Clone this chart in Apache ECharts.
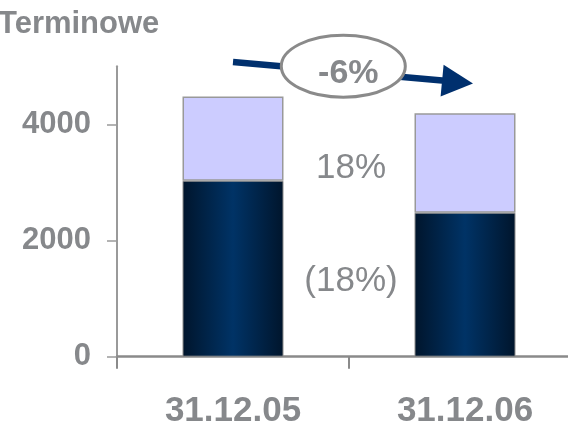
<!DOCTYPE html>
<html>
<head>
<meta charset="utf-8">
<script src="https://cdn.jsdelivr.net/npm/echarts@6/dist/echarts.min.js"></script>
<style>html,body{margin:0;padding:0;background:#fff;}#c{width:568px;height:428px;}</style>
</head>
<body>
<div id="c"></div>
<script>
var title = 'Terminowe';
var categories = ['31.12.05', '31.12.06'];
var darkValues = [3030, 2480];
var lightValues = [1450, 1710];
var yTicks = [0, 2000, 4000];

var gray = '#86888b';
var font = 'Liberation Sans, Arial, sans-serif';

function pct(a, b) { return Math.round((b / a - 1) * 100); }
var totalChange = pct(darkValues[0] + lightValues[0], darkValues[1] + lightValues[1]);
var lightChange = pct(lightValues[0], lightValues[1]);
var darkChange = pct(darkValues[0], darkValues[1]);
var darkLabel = darkChange < 0 ? '(' + Math.abs(darkChange) + '%)' : darkChange + '%';

var chart = echarts.init(document.getElementById('c'));
chart.setOption({
  animation: false,
  backgroundColor: '#fff',
  title: {
    text: title, left: -2, top: 9, padding: 0,
    textStyle: { fontFamily: font, fontSize: 31, fontWeight: 'bold', color: gray }
  },
  grid: { left: 117, right: -13, top: 66.3, bottom: 71.3, outerBoundsMode: 'none', containLabel: false },
  xAxis: {
    type: 'category',
    data: categories,
    axisLine: { lineStyle: { color: '#8a8a8a', width: 2.5 } },
    axisTick: { show: true, length: 12, lineStyle: { color: '#8a8a8a', width: 2 } },
    axisLabel: { margin: 37, fontFamily: font, fontSize: 35, fontWeight: 'bold', color: gray }
  },
  yAxis: {
    type: 'value', min: 0, max: 5000, interval: 2000,
    splitLine: { show: false },
    axisLine: { show: true, lineStyle: { color: '#9a9a9a', width: 2 } },
    axisTick: { show: true, length: 10, customValues: yTicks, lineStyle: { color: '#9a9a9a', width: 1.5 } },
    axisLabel: { margin: 26, customValues: yTicks, formatter: function (v) { return String(v); },
      fontFamily: font, fontSize: 31, fontWeight: 'bold', color: gray }
  },
  series: [
    {
      type: 'bar', stack: 'a', data: darkValues, barWidth: 101,
      itemStyle: {
        borderColor: '#8c8c8c', borderWidth: 1,
        color: new echarts.graphic.LinearGradient(0, 0, 1, 0, [
          { offset: 0, color: '#00152c' },
          { offset: 0.5, color: '#003366' },
          { offset: 1, color: '#00152c' }
        ])
      }
    },
    {
      type: 'bar', stack: 'a', data: lightValues, barWidth: 101,
      itemStyle: { color: '#ccccff', borderColor: '#999999', borderWidth: 1.5 }
    }
  ],
  graphic: [
    { type: 'line', z: 100, shape: { x1: 233, y1: 62, x2: 445, y2: 80.7 },
      style: { stroke: '#00306e', lineWidth: 6.5 } },
    { type: 'polygon', z: 100, shape: { points: [[473, 83.5], [440.6, 96.5], [443.6, 64.7]] },
      style: { fill: '#00306e' } },
    { type: 'ellipse', z: 101, shape: { cx: 343.3, cy: 66.2, rx: 62, ry: 31 },
      style: { fill: '#fff', stroke: '#8a8a8a', lineWidth: 3 } },
    { type: 'text', z: 102, x: 348.3, y: 74,
      style: { text: totalChange + '%', font: 'bold 34px ' + font, fill: gray, align: 'center', verticalAlign: 'middle' } },
    { type: 'text', z: 102, x: 351, y: 168,
      style: { text: lightChange + '%', font: '35px ' + font, fill: gray, align: 'center', verticalAlign: 'middle' } },
    { type: 'text', z: 102, x: 351, y: 281,
      style: { text: darkLabel, font: '35px ' + font, fill: gray, align: 'center', verticalAlign: 'middle' } }
  ]
});
</script>
</body>
</html>
